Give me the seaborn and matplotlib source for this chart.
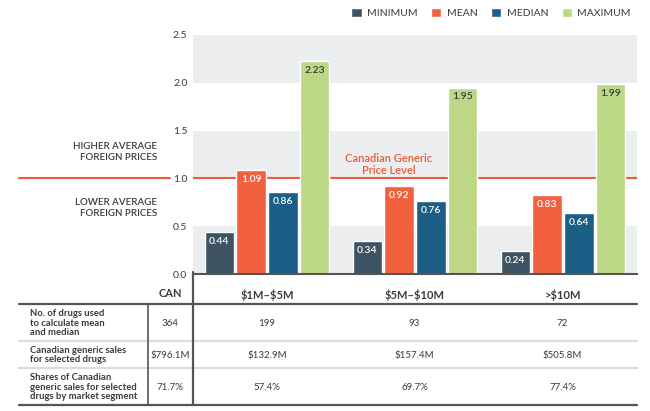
import numpy as np
import pandas as pd
import seaborn as sns
import matplotlib.pyplot as plt
from matplotlib.lines import Line2D

W, H = 650, 411

segments = ["$1M–$5M", "$5M–$10M", ">$10M"]
stats = ["MINIMUM", "MEAN", "MEDIAN", "MAXIMUM"]
minimum = [0.44, 0.34, 0.24]
mean = [1.09, 0.92, 0.83]
median = [0.86, 0.76, 0.64]
maximum = [2.23, 1.95, 1.99]

row_labels = [
    "No. of drugs used\nto calculate mean\nand median",
    "Canadian generic sales\nfor selected drugs",
    "Shares of Canadian\ngeneric sales for selected\ndrugs by market segment",
]
can_values = ["364", "$796.1M", "71.7%"]
n_drugs = ["199", "93", "72"]
sales = ["$132.9M", "$157.4M", "$505.8M"]
shares = ["57.4%", "69.7%", "77.4%"]

colors = ["#3d5361", "#f2613f", "#1b5e86", "#bcd886"]
ref_color = "#ef5a3a"
band_color = "#ecedef"
text_color = "#3a3a3a"


def px(x):
    return x / W


def py(y):
    return 1 - y / H


def main():
    sns.set_style("white")
    plt.rcParams['font.family'] = ['Lato', 'DejaVu Sans']
    plt.rcParams['text.parse_math'] = False

    df = pd.DataFrame({
        "segment": np.repeat(segments, 4),
        "stat": stats * 3,
        "value": np.ravel(np.column_stack([minimum, mean, median, maximum])),
    })

    fig = plt.figure(figsize=(W / 100, H / 100), dpi=100)
    ax = fig.add_axes([px(193), py(274), px(637) - px(193), py(35) - py(274)])

    for lo in [0, 1, 2]:
        ax.axhspan(lo, lo + 0.5, color=band_color, zorder=0, lw=0)

    # Canadian price level line (behind bars)
    ax.axhline(1.0, color=ref_color, lw=1.5, zorder=1)
    ax.plot([(19 - 193) / 444, (170 - 193) / 444], [1, 1], color=ref_color, lw=1.5,
            transform=ax.get_yaxis_transform(), clip_on=False)

    sns.barplot(data=df, x="segment", y="value", hue="stat", order=segments,
                hue_order=stats, palette=colors, width=0.86, gap=0.08,
                saturation=1, ax=ax, zorder=2, legend=True)

    for i, cont in enumerate(ax.containers):
        tc = text_color if stats[i] == "MAXIMUM" else "white"
        for bar in cont:
            h = bar.get_height()
            ax.annotate(f"{h:.2f}", (bar.get_x() + bar.get_width() / 2, h),
                        xytext=(0, -3.5), textcoords="offset points",
                        ha="center", va="top", fontsize=7.5, color=tc,
                        fontweight="semibold", zorder=3)

    ax.text(0.82, 1.03, "Canadian Generic\nPrice Level", ha="center", va="bottom",
            color=ref_color, fontsize=8, fontweight="semibold", linespacing=1.05)

    ax.set_xlim(-0.5, 2.5)
    ax.set_ylim(0, 2.5)
    ax.set_yticks([0, 0.5, 1.0, 1.5, 2.0, 2.5])
    ax.set_yticklabels(["0.0", "0.5", "1.0", "1.5", "2.0", "2.5"])
    ax.set_xlabel("")
    ax.set_ylabel("")
    ax.tick_params(axis="y", length=0, pad=4, labelsize=7.5, labelcolor=text_color)
    ax.tick_params(axis="x", which="major", length=0, pad=11, labelsize=8,
                   labelcolor=text_color)
    for lab in ax.get_xticklabels():
        lab.set_fontweight("bold")
    ax.set_xticks([0.5, 1.5, 2.5], minor=True)
    ax.tick_params(axis="x", which="minor", length=4, width=1.2, color="#555555",
                   direction="out")
    for s in ["top", "right", "left"]:
        ax.spines[s].set_visible(False)
    ax.spines["bottom"].set_color("#555555")
    ax.spines["bottom"].set_linewidth(1.5)

    handles, labels = ax.get_legend_handles_labels()
    ax.get_legend().remove()
    fig.legend(handles, labels, ncol=4, loc="center", bbox_to_anchor=(px(491), py(13)),
               frameon=False, fontsize=7.5, handlelength=1.0, handleheight=1.0,
               handletextpad=0.5, columnspacing=1.3, labelcolor=text_color)

    fig.text(px(157), py(152), "HIGHER AVERAGE\nFOREIGN PRICES", ha="right", va="center",
             fontsize=7, color=text_color, fontweight="semibold", linespacing=1.2)
    fig.text(px(157), py(208), "LOWER AVERAGE\nFOREIGN PRICES", ha="right", va="center",
             fontsize=7, color=text_color, fontweight="semibold", linespacing=1.2)

    # table under the chart
    dark = "#555555"
    light = "#dcdcdc"
    fig.add_artist(Line2D([px(19), px(637)], [py(304), py(304)], color=dark, lw=1.6))
    fig.add_artist(Line2D([px(19), px(637)], [py(341), py(341)], color=light, lw=1.6))
    fig.add_artist(Line2D([px(19), px(637)], [py(368), py(368)], color=light, lw=1.6))
    fig.add_artist(Line2D([px(19), px(637)], [py(405), py(405)], color=dark, lw=1.6))
    fig.add_artist(Line2D([px(148), px(148)], [py(304), py(405)], color=dark, lw=1.2))
    fig.add_artist(Line2D([px(193), px(193)], [py(272), py(405)], color=dark, lw=1.6))

    fig.text(px(170), py(293), "CAN", ha="center", va="center", fontsize=8,
             fontweight="bold", color=text_color)

    row_y = [323, 355, 387]
    group_x = [267, 414.5, 562.5]
    columns = [n_drugs, sales, shares]
    for r, y in enumerate(row_y):
        fig.text(px(30), py(y), row_labels[r], ha="left", va="center", fontsize=6.8,
                 fontweight="bold", color=text_color, linespacing=1.05)
        fig.text(px(170), py(y), can_values[r], ha="center", va="center", fontsize=7,
                 color=text_color)
        for c, x in enumerate(group_x):
            fig.text(px(x), py(y), columns[r][c], ha="center", va="center", fontsize=7,
                     color=text_color)

    fig.savefig("out.png", dpi=100)


if __name__ == "__main__":
    main()
